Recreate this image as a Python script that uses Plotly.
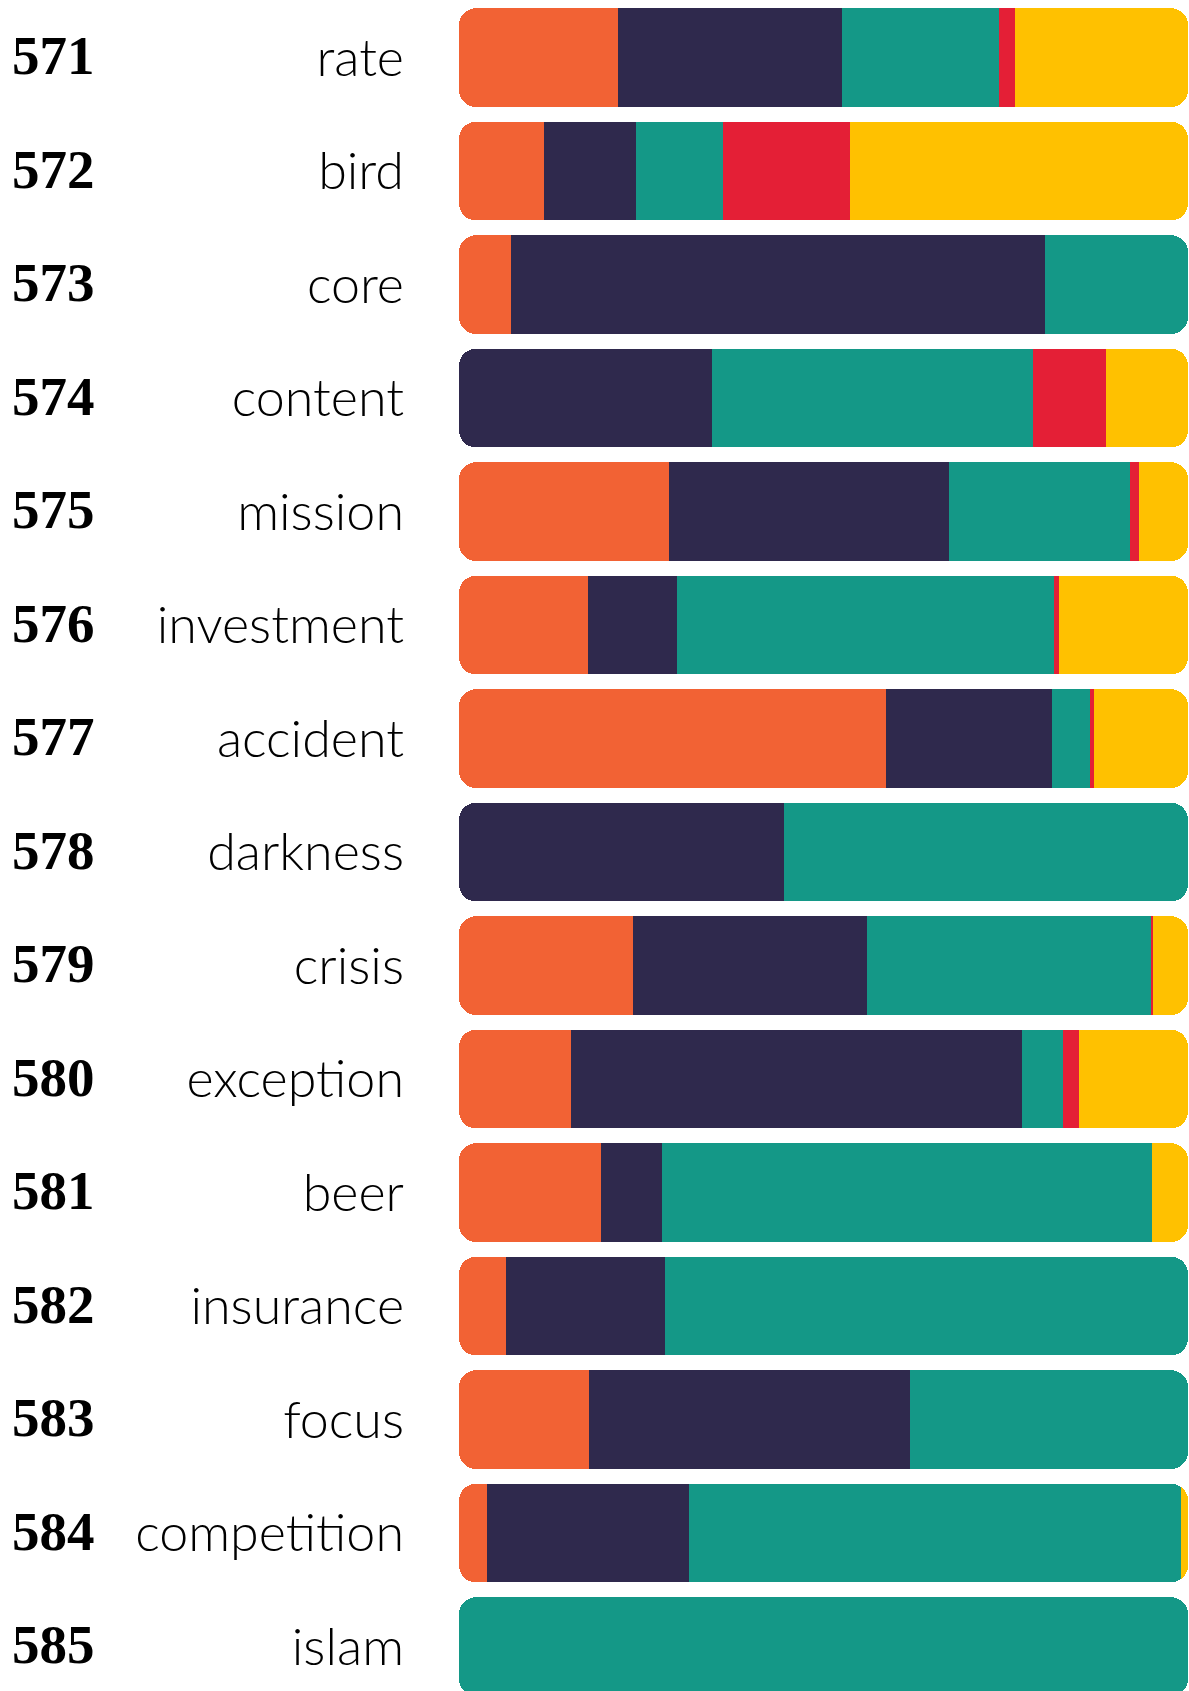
import plotly.graph_objects as go

ranks = [571, 572, 573, 574, 575, 576, 577, 578, 579, 580, 581, 582, 583, 584, 585]
words = ["rate", "bird", "core", "content", "mission", "investment", "accident",
         "darkness", "crisis", "exception", "beer", "insurance", "focus",
         "competition", "islam"]

# share of each category per word (%)
orange = [21.8, 11.6, 7.2, 0, 28.8, 17.7, 58.6, 0, 23.9, 15.4, 19.5, 6.5, 17.9, 3.8, 0]
navy = [30.8, 12.7, 73.2, 34.7, 38.4, 12.2, 22.7, 44.6, 32.1, 61.8, 8.3, 21.8, 44.0, 27.8, 0]
teal = [21.5, 11.9, 19.6, 44.0, 24.8, 51.7, 5.2, 55.4, 38.9, 5.6, 67.2, 71.7, 38.1, 67.4, 100]
red = [2.1, 17.5, 0, 10.0, 1.3, 0.7, 0.6, 0, 0.3, 2.3, 0, 0, 0, 0, 0]
yellow = [23.8, 46.3, 0, 11.3, 6.7, 17.7, 12.9, 0, 4.8, 14.9, 5.0, 0, 0, 1.0, 0]

series = [orange, navy, teal, red, yellow]
colors = ["#f26234", "#2f294d", "#149887", "#e41f36", "#ffc100"]

W, H = 1189, 1691
PLOT_L = 459
ROW_PX = 113.5
FIRST_CENTER = 57.6
BAR_W = 98.7 / ROW_PX

rows = list(range(len(words)))

# the left end of each row is drawn on a reversed x axis so that plotly
# rounds it; the rest is stacked normally and rounded at the right end
first = [next(k for k in range(len(series)) if series[k][i] > 0) for i in rows]
nseg = [sum(1 for s in series if s[i] > 0) for i in rows]
head = [series[first[i]][i] / (1 if nseg[i] > 1 else 2) for i in rows]

fig = go.Figure()

clear = "rgba(0,0,0,0)"
fig.add_trace(go.Bar(y=rows, x=head, orientation="h", width=BAR_W,
                     marker=dict(color=clear, line=dict(width=0)),
                     showlegend=False, hoverinfo="skip"))
for k, vals in enumerate(series):
    xs = [vals[i] - (head[i] if first[i] == k else 0) for i in rows]
    fig.add_trace(go.Bar(y=rows, x=xs, orientation="h", width=BAR_W,
                         marker=dict(color=colors[k], line=dict(width=0)),
                         showlegend=False, hoverinfo="skip"))

fig.add_trace(go.Bar(y=rows, x=[100 - h for h in head], orientation="h", width=BAR_W,
                     xaxis="x2", marker=dict(color=clear, line=dict(width=0)),
                     showlegend=False, hoverinfo="skip"))
for k in range(len(series)):
    xs = [head[i] if first[i] == k else 0 for i in rows]
    fig.add_trace(go.Bar(y=rows, x=xs, orientation="h", width=BAR_W, xaxis="x2",
                         marker=dict(color=colors[k], line=dict(width=0)),
                         showlegend=False, hoverinfo="skip"))

# rank numbers on the far left
for i in rows:
    fig.add_annotation(
        x=0, xref="paper", y=i, yref="y",
        text=str(ranks[i]), showarrow=False,
        xanchor="left", yanchor="middle", xshift=-449, yshift=2,
        font=dict(family="Liberation Serif", size=55, color="#000000", weight="bold"),
    )

y_top = -FIRST_CENTER / ROW_PX
y_bottom = (H - FIRST_CENTER) / ROW_PX

fig.update_layout(
    width=W, height=H,
    barmode="stack",
    barcornerradius=17,
    paper_bgcolor="white",
    plot_bgcolor="white",
    margin=dict(l=PLOT_L, r=1, t=0, b=0, autoexpand=False),
    xaxis=dict(range=[0, 100], showgrid=False, zeroline=False,
               showticklabels=False, ticks="", fixedrange=True),
    xaxis2=dict(range=[100, 0], overlaying="x", visible=False, fixedrange=True),
    yaxis=dict(range=[y_bottom, y_top], showgrid=False, zeroline=False,
               tickmode="array", tickvals=rows, ticktext=words, ticks="",
               ticklabelstandoff=54,
               tickfont=dict(family="Lato", size=52, color="#000000", weight=300)),
)

# drop the browser's default body margin so the figure fills the window
fig.write_html("out.html",
               config={"displayModeBar": False, "staticPlot": True},
               post_script="document.body.style.margin='0';"
                           "document.body.style.overflow='hidden';")
